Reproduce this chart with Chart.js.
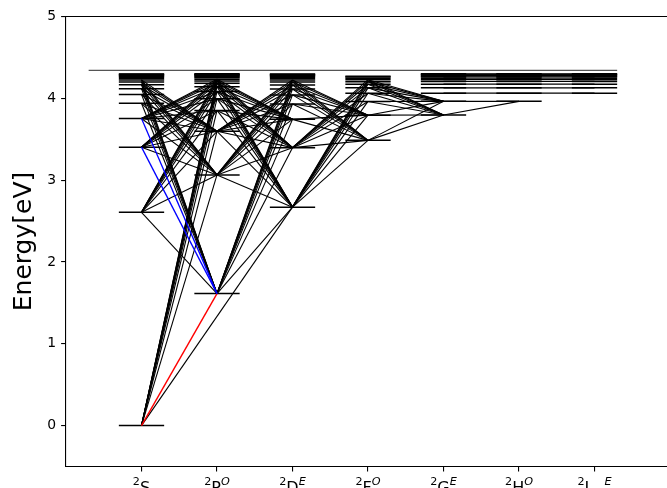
<!DOCTYPE html>
<html>
<head>
<meta charset="utf-8">
<title>K I Grotrian diagram</title>
<script src="https://cdn.jsdelivr.net/npm/chart.js@4.4.0/dist/chart.umd.min.js"></script>
<style>
  html, body { margin: 0; padding: 0; overflow: hidden; background: #fff; }
  #wrap { position: relative; width: 667px; height: 488px; overflow: hidden; }
  canvas { position: absolute; left: 0; top: 0; }
</style>
</head>
<body>
<div id="wrap"><canvas id="grotrian" width="672" height="500"></canvas></div>
<script>
// Term columns (x positions 0..6) and their tick labels
const TERMS = ['S', 'P', 'D', 'F', 'G', 'H', 'I'];
const MULTIPLICITY = ['2', '2', '2', '2', '2', '2', '2'];
const PARITY = ['', 'O', 'E', 'O', 'E', 'O', 'E'];
const TERM_TEXT = ['S', 'P', 'D', 'F', 'G', 'H', 'I   '];

// Level energies in eV for each term column
const S_LEVELS = [0, 2.607, 3.403, 3.754, 3.939, 4.048, 4.118, 4.166, 4.200, 4.225, 4.243, 4.258, 4.270, 4.279, 4.286, 4.293, 4.298];
const P_LEVELS = [1.613, 3.064, 3.597, 3.852, 3.996, 4.084, 4.142, 4.183, 4.212, 4.234, 4.251, 4.264, 4.274, 4.282, 4.289, 4.295, 4.300];
const D_LEVELS = [2.670, 3.397, 3.743, 3.930, 4.042, 4.114, 4.163, 4.198, 4.223, 4.242, 4.257, 4.269, 4.278, 4.286, 4.292, 4.298];
const F_LEVELS = [3.486, 3.794, 3.962, 4.062, 4.128, 4.172, 4.204, 4.228, 4.246, 4.260, 4.271];
const G_LEVELS = [3.797, 3.963, 4.063, 4.128, 4.173, 4.205, 4.228, 4.246, 4.260, 4.271, 4.280, 4.288, 4.294, 4.299];
const H_LEVELS = [3.963, 4.063, 4.128, 4.173, 4.205, 4.228, 4.246, 4.260, 4.271, 4.280, 4.288, 4.294, 4.299];
const I_LEVELS = [4.063, 4.128, 4.173, 4.205, 4.228, 4.246, 4.260, 4.271, 4.280, 4.288, 4.294, 4.299];
const IONIZATION = 4.341;

// Transitions between neighbouring columns:
// [lower-column level index, first, last level index in the next column]
const SP_LINKS = [[0,0,9],[1,0,9],[2,0,9],[3,0,9],[4,0,2],[5,0,2],[6,0,2],[7,0,2],[8,0,2],[9,0,2]];
const PD_LINKS = [[0,0,8],[1,0,8],[2,0,8],[3,0,2],[4,0,2],[5,0,2],[6,0,2],[7,0,2],[8,0,2],[9,0,2]];
const DF_LINKS = [[0,0,7],[1,0,7],[2,0,1],[3,0,1],[4,0,1],[5,0,1],[6,0,1],[7,0,1],[8,0,1]];
const FG_LINKS = [[0,0,1],[1,0,1],[2,0,1],[3,0,1],[4,0,1],[5,0,1],[6,0,1],[7,0,1]];
const GH_LINKS = [[0,0,0],[1,0,0],[2,1,1],[3,2,2],[4,3,3],[5,4,4],[6,5,5],[7,6,6],[8,7,7],[9,8,8],[10,9,9],[11,10,10],[12,11,11],[13,12,12]];
const HI_LINKS = [[1,0,0],[2,1,1],[3,2,2],[4,3,3],[5,4,4],[6,5,5],[7,6,6],[8,7,7],[9,8,8],[10,9,9],[11,10,10],[12,11,11]];
// Single transitions: [column A, level A, column B, level B]
const EXTRA_LINES = [[0, 0, 2, 0]];
const RED_LINES = [[0, 0, 1, 0]];
const BLUE_LINES = [[0, 2, 1, 0], [0, 3, 1, 0]];

const X_TICKS = [0, 1, 2, 3, 4, 5, 6];
const Y_TICKS = [0, 1, 2, 3, 4, 5];

const LEVELS = [S_LEVELS, P_LEVELS, D_LEVELS, F_LEVELS, G_LEVELS, H_LEVELS, I_LEVELS];
const PAIR_LINKS = [SP_LINKS, PD_LINKS, DF_LINKS, FG_LINKS, GH_LINKS, HI_LINKS];

const HALF_BAR = 0.3;
const datasets = [];

function segment(x1, y1, x2, y2, color, width, order) {
  datasets.push({
    data: [{x: x1, y: y1}, {x: x2, y: y2}],
    showLine: true, borderColor: color, borderWidth: width,
    pointRadius: 0, pointHoverRadius: 0, order: order
  });
}

// level bars
LEVELS.forEach((levels, col) => {
  levels.forEach(e => segment(col - HALF_BAR, e, col + HALF_BAR, e, '#000', 1.5, 1));
});
// ionization limit
segment(-0.7, IONIZATION, 6.3, IONIZATION, '#555', 1.4, 1);

function isColored(a, ia, b, ib) {
  return RED_LINES.concat(BLUE_LINES).some(l => l[0] === a && l[1] === ia && l[2] === b && l[3] === ib);
}

// transitions between neighbouring columns
PAIR_LINKS.forEach((links, col) => {
  links.forEach(([lo, first, last]) => {
    for (let j = first; j <= last; j++) {
      if (isColored(col, lo, col + 1, j)) continue;
      segment(col, LEVELS[col][lo], col + 1, LEVELS[col + 1][j], '#000', 1.1, 2);
    }
  });
});
EXTRA_LINES.forEach(([a, ia, b, ib]) => segment(a, LEVELS[a][ia], b, LEVELS[b][ib], '#000', 1.1, 2));
BLUE_LINES.forEach(([a, ia, b, ib]) => segment(a, LEVELS[a][ia], b, LEVELS[b][ib], '#0000ff', 1.3, 0));
RED_LINES.forEach(([a, ia, b, ib]) => segment(a, LEVELS[a][ia], b, LEVELS[b][ib], '#ff0000', 1.4, 0));

const FONT = '"DejaVu Sans", sans-serif';

const framePlugin = {
  id: 'frameAndLabels',
  afterDraw(chart) {
    const {ctx, chartArea, scales: {x}} = chart;
    ctx.save();
    // top spine
    ctx.strokeStyle = '#000';
    ctx.lineWidth = 1.1;
    ctx.beginPath();
    ctx.moveTo(chartArea.left, chartArea.top);
    ctx.lineTo(chartArea.right, chartArea.top);
    ctx.stroke();

    // term labels with superscripts
    ctx.fillStyle = '#000';
    ctx.textBaseline = 'alphabetic';
    ctx.textAlign = 'left';
    const big = '16px ' + FONT, small = '11.2px ' + FONT, smallIt = 'italic 11.2px ' + FONT;
    X_TICKS.forEach((v, i) => {
      const px = x.getPixelForValue(v);
      ctx.font = small; const w1 = ctx.measureText(MULTIPLICITY[i]).width;
      ctx.font = big; const w2 = ctx.measureText(TERM_TEXT[i]).width;
      ctx.font = smallIt; const w3 = ctx.measureText(PARITY[i]).width;
      let x0 = px - (w1 + w2 + w3) / 2;
      ctx.font = small; ctx.fillText(MULTIPLICITY[i], x0, 485.2);
      x0 += w1;
      ctx.font = big; ctx.fillText(TERM_TEXT[i], x0, 493.4);
      x0 += w2;
      ctx.font = smallIt; ctx.fillText(PARITY[i], x0, 485);
    });

    // y axis title
    ctx.translate(31, (chartArea.top + chartArea.bottom) / 2);
    ctx.rotate(-Math.PI / 2);
    ctx.textAlign = 'center';
    ctx.textBaseline = 'alphabetic';
    ctx.font = '25px ' + FONT;
    ctx.fillText('Energy[eV]', 0, 0);
    ctx.restore();
  }
};

new Chart(document.getElementById('grotrian'), {
  type: 'scatter',
  data: { datasets },
  options: {
    responsive: false,
    animation: false,
    devicePixelRatio: 1,
    layout: { padding: { top: 16.5, right: 2, left: 0, bottom: 0 } },
    plugins: { legend: { display: false }, tooltip: { enabled: false } },
    events: [],
    scales: {
      x: {
        type: 'linear', min: -1, max: 7,
        afterBuildTicks: s => { s.ticks = X_TICKS.map(v => ({ value: v })); },
        afterFit: s => { s.height = 500 - 466.5; },
        ticks: { display: false },
        grid: { display: true, drawOnChartArea: false, drawTicks: true, tickLength: 4.9, color: '#000', lineWidth: 1.1 },
        border: { display: true, color: '#000', width: 1.1 }
      },
      y: {
        type: 'linear', min: -0.5, max: 5,
        afterBuildTicks: s => { s.ticks = Y_TICKS.map(v => ({ value: v })); },
        afterFit: s => { s.width = 66; },
        ticks: { color: '#000', font: { family: 'DejaVu Sans', size: 13.9 }, padding: 4.9 },
        grid: { display: true, drawOnChartArea: false, drawTicks: true, tickLength: 4.9, color: '#000', lineWidth: 1.1 },
        border: { display: true, color: '#000', width: 1.1 }
      }
    }
  },
  plugins: [framePlugin]
});
</script>
</body>
</html>
